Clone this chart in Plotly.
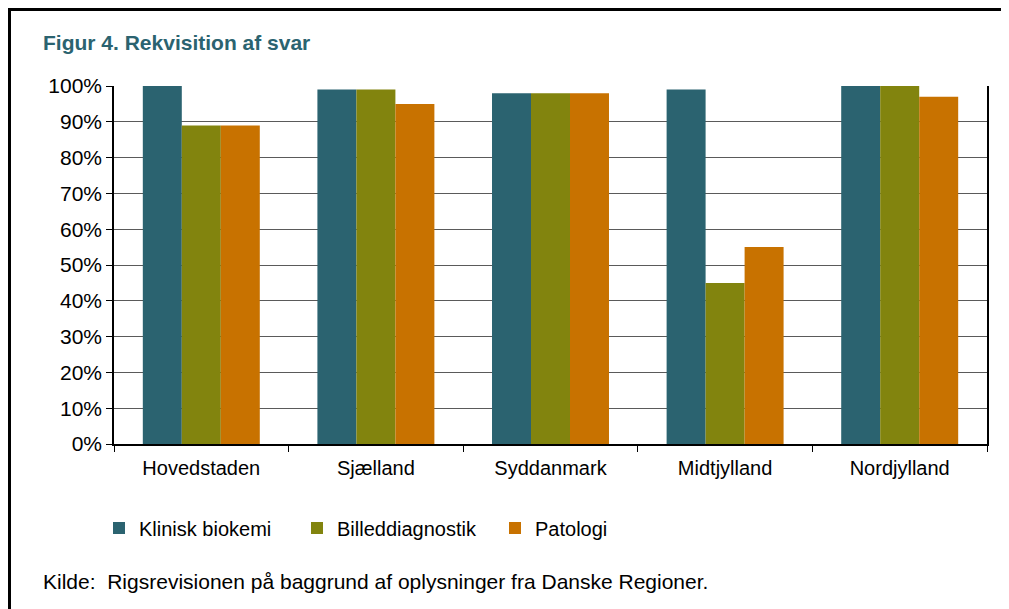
import plotly.graph_objects as go

regions = ["Hovedstaden", "Sjælland", "Syddanmark", "Midtjylland", "Nordjylland"]
klinisk_biokemi = [1.00, 0.99, 0.98, 0.99, 1.00]
billeddiagnostik = [0.89, 0.99, 0.98, 0.45, 1.00]
patologi = [0.89, 0.95, 0.98, 0.55, 0.97]
series_names = ["Klinisk biokemi", "Billeddiagnostik", "Patologi"]
series_colors = ["#2B6370", "#82840E", "#C87200"]
y_ticks = [i / 10 for i in range(11)]
y_ticklabels = [f"{i*10}%" for i in range(11)]

OFF = 8  # page body margin
W, H = 1009 - OFF, 609 - OFF
L, R, T, B = 114 - OFF, 987 - OFF, 86 - OFF, 444 - OFF
FONT = "Liberation Sans, Arial, sans-serif"

fig = go.Figure()
for name, vals, col in zip(series_names, [klinisk_biokemi, billeddiagnostik, patologi], series_colors):
    fig.add_trace(go.Bar(x=regions, y=vals, name=name, marker=dict(color=col, line=dict(width=0))))

def px_x(p):
    return (p - OFF - L) / (R - L)

def px_y(p):
    return (B - (p - OFF)) / (B - T)

fig.update_layout(
    width=W, height=H,
    margin=dict(l=L, r=W - R, t=T, b=H - B, pad=0),
    paper_bgcolor="white", plot_bgcolor="white",
    barmode="group", bargap=0.33, bargroupgap=0,
    font=dict(family=FONT, size=20, color="#000000"),
    showlegend=True,
    legend=dict(orientation="h", x=px_x(99), y=px_y(528), xanchor="left", yanchor="middle",
                font=dict(size=20), entrywidth=153, entrywidthmode="pixels",
                itemsizing="constant", traceorder="normal"),
    xaxis=dict(showline=True, linecolor="#000000", linewidth=1.5, ticks="outside",
               tickson="boundaries", ticklen=6, tickcolor="#000000", showgrid=False,
               tickfont=dict(size=20), ticklabelstandoff=5),
    yaxis=dict(range=[0, 1], tickvals=y_ticks, ticktext=y_ticklabels, showline=True,
               linecolor="#000000", linewidth=1.5, mirror=True, ticks="outside", ticklen=6,
               tickcolor="#000000", showgrid=True, gridcolor="#5a5a5a", gridwidth=1.2,
               zeroline=False, tickfont=dict(size=21)),
    shapes=[
        dict(type="line", xref="paper", yref="paper",
             x0=px_x(8), x1=px_x(1100), y0=px_y(9.5), y1=px_y(9.5),
             line=dict(color="#000000", width=3), layer="above"),
        dict(type="line", xref="paper", yref="paper",
             x0=px_x(9.5), x1=px_x(9.5), y0=px_y(8), y1=px_y(700),
             line=dict(color="#000000", width=3), layer="above"),
    ],
    annotations=[
        dict(text="<b>Figur 4. Rekvisition af svar</b>", xref="paper", yref="paper",
             x=px_x(41), y=px_y(42), xanchor="left", yanchor="middle", showarrow=False,
             font=dict(size=21, color="#2B6370")),
        dict(text="Kilde:  Rigsrevisionen på baggrund af oplysninger fra Danske Regioner.",
             xref="paper", yref="paper", x=px_x(41), y=px_y(581), xanchor="left",
             yanchor="middle", showarrow=False, font=dict(size=21, color="#000000")),
    ],
)

fig.write_html("out.html")
